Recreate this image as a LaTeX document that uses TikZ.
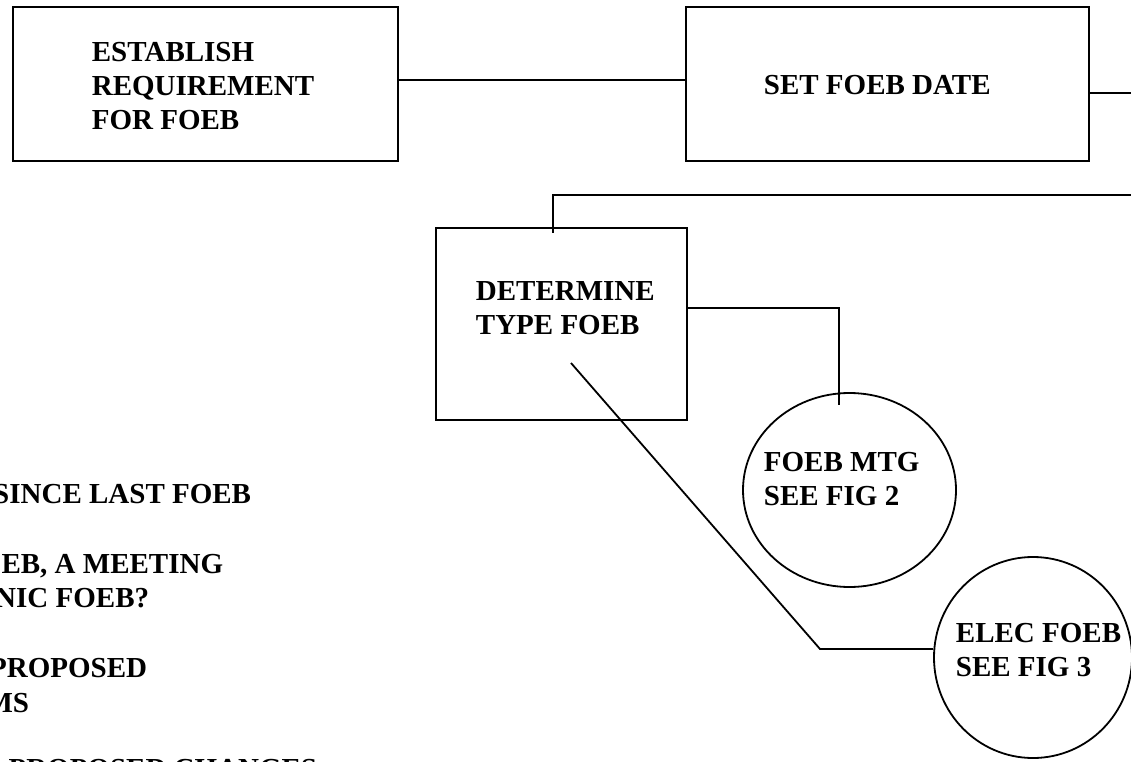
\documentclass[tikz,border=0pt]{standalone}
\usepackage{fontspec}
\setmainfont{Liberation Serif}
\usetikzlibrary{shapes.geometric,positioning}

\begin{document}
\begin{tikzpicture}[x=1pt,y=-1pt,line width=1.8pt,
step box/.style={draw,rectangle,inner sep=0pt},
ref node/.style={draw,ellipse,inner sep=0pt},
flow text/.style={anchor=base west,align=left,inner sep=0pt,font=\fontsize{29pt}{34pt}\selectfont\bfseries},
note text/.style={flow text,anchor=base east}]

\useasboundingbox (0,0) rectangle (1131,762);
\clip (0,0) rectangle (1131,762);

%Steps
\node[step box,minimum width=385pt,minimum height=154pt] (establish) at (205.5,84) {};
\node[step box,minimum width=403pt,minimum height=154pt] (setdate) at (887.5,84) {};
\node[step box,minimum width=251pt,minimum height=192pt] (determine) at (561.5,324) {};

%Types of FOEB
\node[ref node,minimum width=213pt,minimum height=194pt] (mtg) at (849.5,490) {};
\node[ref node,minimum width=198pt,minimum height=201pt] (elec) at (1033,657.5) {};

%Labels (base = last line)
\node[flow text] (establish text) at (91,130) {ESTABLISH\\REQUIREMENT\\FOR FOEB};
\node[flow text] (setdate text) at (763,95) {SET FOEB DATE};
\node[flow text] (determine text) at (475,334) {DETERMINE\\TYPE FOEB};
\node[flow text] (mtg text) at (763,505) {FOEB MTG\\SEE FIG 2};
\node[flow text] (elec text) at (955,676) {ELEC FOEB\\SEE FIG 3};

%Notes
\node[note text] (note1) at (252,503) {SINCE LAST FOEB};
\node[note text] (note2) at (224,573) {OEB, A MEETING};
\node[note text] (note3) at (150,607) {NIC FOEB?};
\node[note text] (note4) at (148,677) {PROPOSED};
\node[note text] (note5) at (30,712) {MS};
\node[note text] (note6) at (318,778.5) {PROPOSED CHANGES};

%Paths
\coordinate (out) at (1140,93);
\coordinate (back) at (1140,195);
\coordinate (drop) at (553,233);
\coordinate (mtg in) at (839,405);
\coordinate (elec from) at (571,363);
\coordinate (elec bend) at (820,649);

\draw ([yshift=4pt]establish.east) -- ([yshift=4pt]setdate.west);
\draw ([yshift=-9pt]setdate.east) -- (out);
\draw (back) -| (drop);
\draw ([yshift=16pt]determine.east) -| (mtg in);
\draw (elec from) -- (elec bend) -- (elec bend -| elec.west);
\end{tikzpicture}
\end{document}
